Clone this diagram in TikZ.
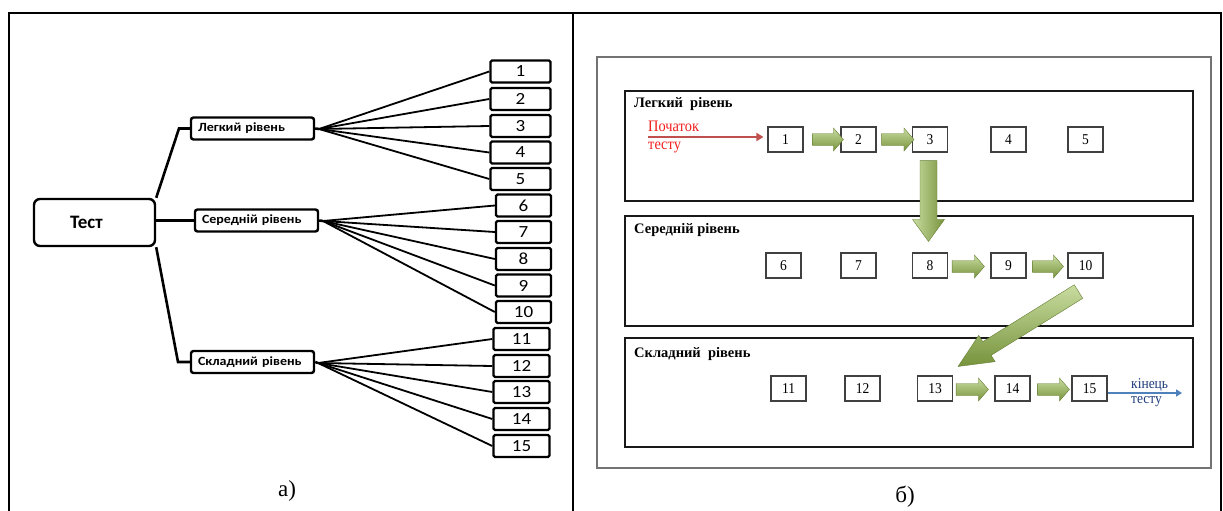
\documentclass[tikz,border=0pt]{standalone}
\usepackage{fontspec}
\setmainfont{Liberation Serif}
\newfontfamily\carl{Carlito}
\newfontfamily\carlw[FakeStretch=1.12]{Carlito}
\newfontfamily\condser[FakeStretch=0.9]{Liberation Serif}
\usetikzlibrary{calc,arrows.meta}
\definecolor{gdark}{HTML}{77933C}
\definecolor{glight}{HTML}{C8DCA0}
\definecolor{redln}{HTML}{C0504D}
\definecolor{redtx}{HTML}{F01E1E}
\definecolor{blueln}{HTML}{4F81BD}
\definecolor{bluetx}{HTML}{1F3D7A}
% green block arrow: #1 style, #2 tail, #3 tip, #4 half body, #5 half head, #6 head length
\newcommand\garrow[6]{%
  \coordinate (ga-hc) at ($(#3)!#6!(#2)$);
  \path[garrowst,#1] ($(#2)!#4!90:(#3)$) -- ($(ga-hc)!#4!-90:(#2)$) -- ($(ga-hc)!#5!-90:(#2)$) -- (#3)
     -- ($(ga-hc)!#5!90:(#2)$) -- ($(ga-hc)!#4!90:(#2)$) -- ($(#2)!#4!-90:(#3)$) -- cycle;}
\begin{document}
\begin{tikzpicture}[x=1pt,y=-1pt,
  lbox/.style={draw,line width=2.4pt,rounded corners=2.5pt,font=\carlw\bfseries\fontsize{12.5}{14}\selectfont,
     inner xsep=7pt,inner ysep=0pt,text width=109pt,align=left,minimum height=22pt},
  nbox/.style={draw,line width=2.4pt,rounded corners=1.5pt,font=\carlw\fontsize{17}{18}\selectfont,
     inner sep=0pt,minimum width=58pt,minimum height=22pt},
  conn/.style={line width=2.6pt},
  fan/.style={line width=1.8pt},
  rbox/.style={draw=black!75,line width=1.1pt,inner sep=0pt,minimum width=35pt,minimum height=25pt,
     font=\condser\fontsize{15}{16}\selectfont},
  lvl/.style={draw=black!90,line width=1.2pt},
  ttl/.style={anchor=base west,font=\bfseries\fontsize{14.5}{16}\selectfont,inner sep=0pt},
  garrowst/.style={top color=glight,bottom color=gdark,draw=gdark!85!black,line width=0.4pt},
  captxt/.style={font=\fontsize{23}{26}\selectfont,inner sep=0pt},
  lab/.style={anchor=base west,inner sep=0pt,font=\condser\fontsize{16}{17}\selectfont},
]
\useasboundingbox (0,0) rectangle (1223,511);
% outer frame
\draw[line width=2pt] (9,511) -- (9,13) -- (1221,13) -- (1221,511);
\draw[line width=2pt] (573,13) -- (573,511);

% ---------- left panel ----------
\node[draw,line width=2.4pt,rounded corners=6pt,minimum width=121pt,minimum height=47pt,inner xsep=36pt,
  text width=49pt,align=left,font=\carl\bfseries\fontsize{19}{21}\selectfont] (test) at (94.5,222.5) {Тест};
\node[lbox] (leg) at (252.5,128.5) {Легкий рівень};
\node[lbox] (ser) at (256.5,220.5) {Середній рівень};
\node[lbox] (skl) at (252.5,362) {Складний рівень};

\node[nbox,minimum width=60pt] (n1) at (520.5,71.5) {1};
\node[nbox,minimum width=60pt] (n2) at (520.5,99) {2};
\node[nbox,minimum width=60pt] (n3) at (520.5,126) {3};
\node[nbox,minimum width=60pt] (n4) at (520.5,152.5) {4};
\node[nbox,minimum width=60pt] (n5) at (520.5,179) {5};
\node[nbox,minimum width=55pt] (n6) at (523.5,205.5) {6};
\node[nbox,minimum width=55pt] (n7) at (523.5,232) {7};
\node[nbox,minimum width=55pt] (n8) at (523.5,259) {8};
\node[nbox,minimum width=55pt] (n9) at (523.5,285.5) {9};
\node[nbox,minimum width=55pt] (n10) at (523.5,312) {10};
\node[nbox,minimum width=56pt] (n11) at (521.5,339) {11};
\node[nbox,minimum width=56pt] (n12) at (521.5,366) {12};
\node[nbox,minimum width=56pt] (n13) at (521.5,392) {13};
\node[nbox,minimum width=56pt] (n14) at (521.5,419) {14};
\node[nbox,minimum width=56pt] (n15) at (521.5,446) {15};

\coordinate (k1) at (179,128.5);
\coordinate (k3) at (178,362);
\draw[conn] (test.north east) -- (k1) -- (leg.west);
\draw[conn] (ser.west -| test.east) -- (ser.west);
\draw[conn] (test.south east) -- (k3) -- (skl.west);

\coordinate (fa) at (319,129);
\coordinate (fb) at (323,221);
\coordinate (fc) at (318,363);
\draw[conn] (leg.east) -- (fa);
\draw[conn] (ser.east) -- (fb);
\draw[conn] (skl.east) -- (fc);
\foreach \i in {1,...,5} \draw[fan] (fa) -- (n\i.west);
\foreach \i in {6,...,10} \draw[fan] (fb) -- (n\i.west);
\foreach \i in {11,...,15} \draw[fan] (fc) -- (n\i.west);

\node[captxt] (capa) at (287,491) {а)};

% ---------- right panel ----------
\draw[draw=black!55,line width=1.2pt] (597,57) rectangle (1211,468);
\draw[lvl] (625,91) rectangle (1193,201);
\draw[lvl] (625,216) rectangle (1193,326);
\draw[lvl] (625,338) rectangle (1193,447);
\node[ttl] (t1) at (634,107.5) {Легкий\ \ рівень};
\node[ttl] (t2) at (634,233.5) {Середній рівень};
\node[ttl] (t3) at (634,357.5) {Складний\ \ рівень};

\node[rbox] (r1) at (785.5,139.5) {1};
\node[rbox] (r2) at (858.5,139.5) {2};
\node[rbox] (r3) at (930,139.5) {3};
\node[rbox] (r4) at (1008.5,139.5) {4};
\node[rbox] (r5) at (1085.5,139.5) {5};
\node[rbox] (r6) at (783.5,265.5) {6};
\node[rbox] (r7) at (858.5,265.5) {7};
\node[rbox] (r8) at (930,265.5) {8};
\node[rbox] (r9) at (1008.5,265.5) {9};
\node[rbox] (r10) at (1085.5,265.5) {10};
\node[rbox] (r11) at (788.5,388.5) {11};
\node[rbox] (r12) at (862.5,388.5) {12};
\node[rbox] (r13) at (935,388.5) {13};
\node[rbox] (r14) at (1012.5,388.5) {14};
\node[rbox] (r15) at (1089.5,388.5) {15};

% start of test
\node[lab,text=redtx] (pst) at (648,131) {Початок};
\node[lab,text=redtx] (pts) at (648,149) {тесту};
\coordinate (ps) at (648,137);
\draw[redln,line width=2.4pt,-{Triangle[length=7pt,width=8pt]},shorten >=4pt] (ps) -- (ps -| r1.west);

% end of test
\node[lab,text=bluetx,font=\condser\fontsize{15}{16}\selectfont] (kin) at (1131,388) {кінець};
\node[lab,text=bluetx,font=\condser\fontsize{15}{16}\selectfont] (kts) at (1131,403) {тесту};
\coordinate (pe) at (1182,393);
\draw[blueln,line width=2.2pt,-{Triangle[length=6pt,width=7pt]}] (pe -| r15.east) -- (pe);

% green arrows
\coordinate (a1s) at ($(r1.east)+(9,0)$);  \coordinate (a1e) at ($(r2.west)+(3,0)$);
\coordinate (a2s) at ($(r2.east)+(5,0)$);  \coordinate (a2e) at ($(r3.west)+(2,0)$);
\coordinate (a3s) at ($(r8.east)+(4,1)$);  \coordinate (a3e) at ($(r9.west)+(-6,1)$);
\coordinate (a4s) at ($(r9.east)+(6,1)$);  \coordinate (a4e) at ($(r10.west)+(-4,1)$);
\coordinate (a5s) at ($(r13.east)+(3,1)$); \coordinate (a5e) at ($(r14.west)+(-6,1)$);
\coordinate (a6s) at ($(r14.east)+(7,1)$); \coordinate (a6e) at ($(r15.west)+(-2,1)$);
\garrow{}{a1s}{a1e}{6pt}{11.5pt}{10pt}
\garrow{}{a2s}{a2e}{6pt}{11.5pt}{10pt}
\garrow{}{a3s}{a3e}{6pt}{11.5pt}{10pt}
\garrow{}{a4s}{a4e}{6pt}{11.5pt}{10pt}
\garrow{}{a5s}{a5e}{6pt}{11.5pt}{10pt}
\garrow{}{a6s}{a6e}{6pt}{11.5pt}{10pt}
\coordinate (vs) at ($(r3.south)+(-1.5,8)$);
\coordinate (ve) at ($(r8.north)+(-1.5,-11)$);
\garrow{left color=glight,right color=gdark}{vs}{ve}{8.5pt}{16pt}{22pt}
\coordinate (ds) at ($(r10.south)+(-7,13)$);
\coordinate (de) at ($(r13.north east)+(5,-9)$);
\garrow{}{ds}{de}{8pt}{15.5pt}{34pt}

\node[captxt] (capb) at (905,497) {б)};
\end{tikzpicture}
\end{document}
